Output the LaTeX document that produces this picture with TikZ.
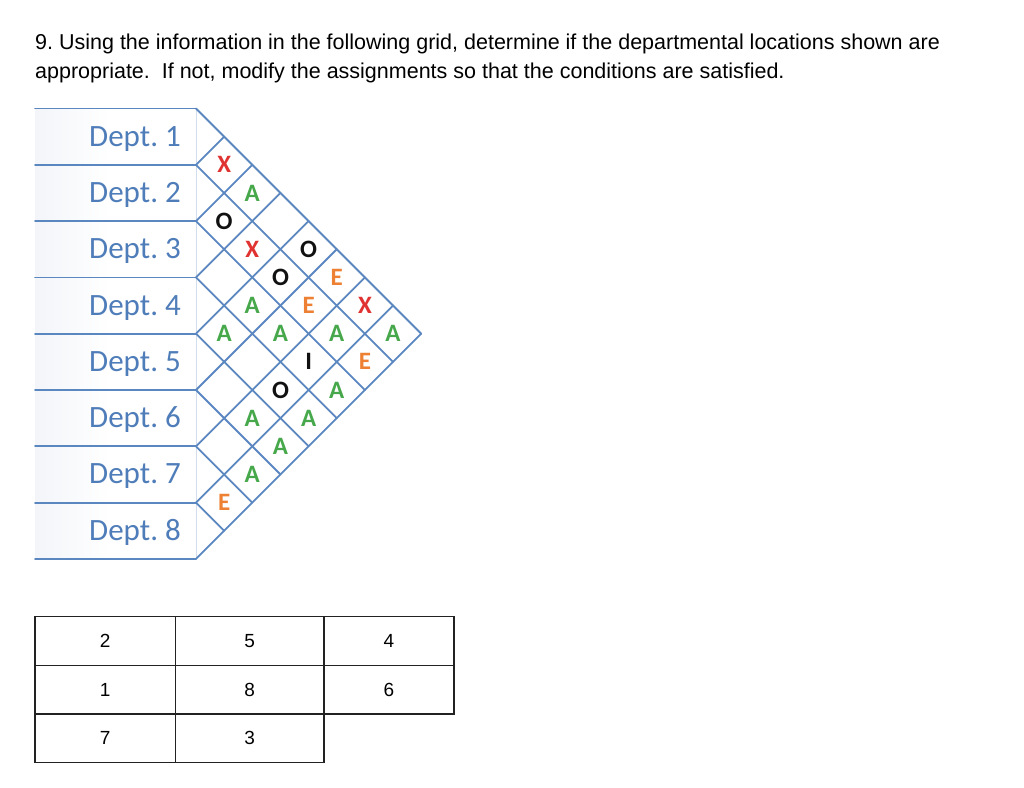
\documentclass[tikz,border=0pt]{standalone}
\usepackage{fontspec}
\setmainfont{Liberation Sans}
\newfontfamily\calib{Carlito}
\definecolor{gridblue}{HTML}{5B87C1}
\definecolor{deptblue}{HTML}{4F7DB9}
\definecolor{faintline}{HTML}{D3DDEB}
\definecolor{rowshade}{HTML}{F3F5F9}
\definecolor{cX}{HTML}{E03331}
\definecolor{cA}{HTML}{46A84B}
\definecolor{cE}{HTML}{EE8034}
\definecolor{cO}{HTML}{111111}
\definecolor{tblline}{HTML}{222222}
\begin{document}
\begin{tikzpicture}[x=1pt,y=-1pt,
  gridline/.style={draw=gridblue,line width=1.8pt,line cap=round},
  dept/.style={anchor=base east,inner sep=0pt,text=deptblue,font=\calib\fontsize{31}{36}\selectfont},
  rel/.style={inner sep=0pt,font=\calib\bfseries\fontsize{25}{30}\selectfont},
  title/.style={anchor=base west,inner sep=0pt,font=\fontsize{21.5}{26}\selectfont},
  cell/.style={draw=tblline,line width=1.3pt,inner sep=0pt,outer sep=0pt,minimum height=48.6pt,font=\fontsize{19}{23}\selectfont}]
\useasboundingbox[fill=white] (0,0) rectangle (1024,787);
\frenchspacing
% title
\node[title] (t1) at (35,49) {9. Using the information in the following grid, determine if the departmental locations shown are};
\node[title] (t2) at (35,78) {appropriate.\ \ If not, modify the assignments so that the conditions are satisfied.};
% row shading
\foreach \k in {0,...,7}{
  \pgfmathsetmacro\ya{108.5+\k*56.3}
  \pgfmathsetmacro\yb{108.5+(\k+1)*56.3}
  \shade[left color=rowshade,right color=white] (35,\ya) rectangle (110,\yb);
}
\draw[faintline,line width=0.8pt] (196,108.5) -- (196,558.9);
% horizontal lines
\foreach \k in {0,...,8}{
  \pgfmathsetmacro\yk{108.5+\k*56.3}
  \draw[gridline] (35,\yk) -- (196,\yk);
}
% diagonals
\foreach \k in {0,...,7}{
  \pgfmathsetmacro\yk{108.5+\k*56.3}
  \pgfmathsetmacro\dd{(8-\k)*28.15}
  \draw[gridline] (196,\yk) -- ++(\dd,\dd);
}
\foreach \k in {1,...,8}{
  \pgfmathsetmacro\yk{108.5+\k*56.3}
  \pgfmathsetmacro\dd{\k*28.15}
  \draw[gridline] (196,\yk) -- ++(\dd,-\dd);
}
% labels
\foreach \i in {1,...,8}{
  \pgfmathsetmacro\yy{108.5+(\i-0.5)*56.3+9.5}
  \node[dept] (d\i) at (181,\yy) {Dept. \i};
}
% relationship letters
\foreach \i/\j/\l/\c in {1/2/X/cX,2/3/O/cO,4/5/A/cA,7/8/E/cE,
  1/3/A/cA,2/4/X/cX,3/5/A/cA,5/7/A/cA,6/8/A/cA,
  2/5/O/cO,3/6/A/cA,4/7/O/cO,5/8/A/cA,
  1/5/O/cO,2/6/E/cE,3/7/I/cO,4/8/A/cA,
  1/6/E/cE,2/7/A/cA,3/8/A/cA,
  1/7/X/cX,2/8/E/cE,1/8/A/cA}{
  \node[rel,text=\c] (r\i\j) at ({196+(\j-\i)*28.15},{108.5+(\i+\j-1)*28.15}) {\l};
}
% table
\node[cell,minimum width=140.3pt] (a1) at (105.15,641) {2};
\node[cell,minimum width=148.7pt] (a2) at (249.65,641) {5};
\node[cell,minimum width=130pt] (a3) at (389,641) {4};
\node[cell,minimum width=140.3pt] (b1) at (105.15,689.65) {1};
\node[cell,minimum width=148.7pt] (b2) at (249.65,689.65) {8};
\node[cell,minimum width=130pt] (b3) at (389,689.65) {6};
\node[cell,minimum width=140.3pt] (c1) at (105.15,738.3) {7};
\node[cell,minimum width=148.7pt] (c2) at (249.65,738.3) {3};
\end{tikzpicture}
\end{document}
